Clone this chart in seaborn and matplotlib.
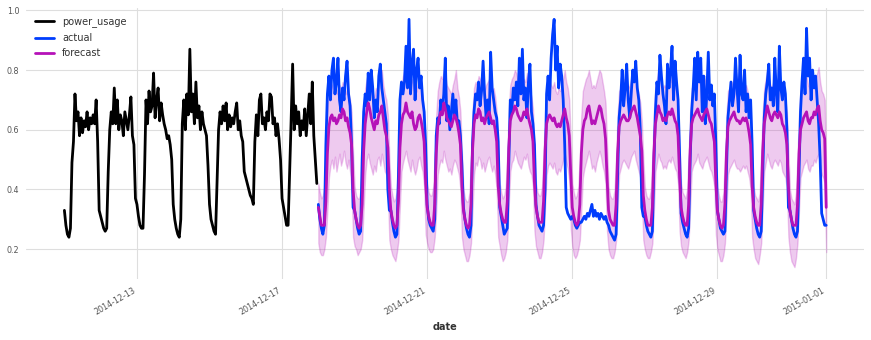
import matplotlib
matplotlib.use("Agg")
import matplotlib.pyplot as plt
import matplotlib.dates as mdates
import pandas as pd
import seaborn as sns

# ---------------- data (hourly) ----------------
power_usage_start = "2014-12-11 00:00"
forecast_start = "2014-12-18 00:00"

power_usage = [
    0.33, 0.28, 0.25, 0.24, 0.27, 0.49, 0.56, 0.72, 0.63, 0.66, 0.58, 0.64, 0.59, 0.63, 0.61, 0.66, 0.60, 0.64, 0.62, 0.65, 0.62, 0.70, 0.56, 0.33,
    0.31, 0.29, 0.27, 0.26, 0.27, 0.46, 0.60, 0.66, 0.62, 0.74, 0.62, 0.70, 0.60, 0.65, 0.63, 0.58, 0.66, 0.63, 0.60, 0.65, 0.71, 0.58, 0.55, 0.37,
    0.35, 0.31, 0.28, 0.27, 0.27, 0.45, 0.70, 0.62, 0.73, 0.66, 0.68, 0.79, 0.64, 0.70, 0.74, 0.63, 0.69, 0.65, 0.62, 0.60, 0.57, 0.58, 0.55, 0.50,
    0.35, 0.30, 0.27, 0.25, 0.24, 0.30, 0.62, 0.70, 0.60, 0.72, 0.65, 0.87, 0.66, 0.72, 0.62, 0.76, 0.64, 0.68, 0.60, 0.66, 0.62, 0.60, 0.58, 0.48,
    0.35, 0.30, 0.28, 0.26, 0.25, 0.42, 0.60, 0.66, 0.62, 0.68, 0.63, 0.69, 0.60, 0.65, 0.61, 0.64, 0.62, 0.66, 0.69, 0.60, 0.63, 0.58, 0.56, 0.46,
    0.44, 0.42, 0.40, 0.38, 0.37, 0.35, 0.56, 0.65, 0.58, 0.70, 0.72, 0.62, 0.64, 0.60, 0.66, 0.63, 0.72, 0.71, 0.62, 0.64, 0.58, 0.62, 0.57, 0.50,
    0.37, 0.34, 0.31, 0.28, 0.28, 0.45, 0.63, 0.82, 0.60, 0.68, 0.62, 0.66, 0.58, 0.63, 0.60, 0.67, 0.58, 0.65, 0.72, 0.62, 0.76, 0.58, 0.50, 0.42,
]

actual = [
    0.35, 0.30, 0.27, 0.25, 0.28, 0.55, 0.72, 0.78, 0.70, 0.80, 0.84, 0.72, 0.76, 0.84, 0.70, 0.66, 0.74, 0.70, 0.78, 0.83, 0.72, 0.68, 0.55, 0.34,
    0.33, 0.30, 0.27, 0.25, 0.26, 0.50, 0.66, 0.72, 0.68, 0.79, 0.70, 0.80, 0.74, 0.64, 0.70, 0.66, 0.78, 0.82, 0.74, 0.70, 0.66, 0.62, 0.40, 0.33,
    0.33, 0.29, 0.26, 0.24, 0.25, 0.45, 0.70, 0.76, 0.72, 0.76, 0.88, 0.74, 0.97, 0.72, 0.82, 0.87, 0.70, 0.80, 0.84, 0.74, 0.78, 0.70, 0.66, 0.55,
    0.35, 0.30, 0.28, 0.27, 0.26, 0.30, 0.58, 0.64, 0.62, 0.70, 0.66, 0.72, 0.84, 0.63, 0.68, 0.60, 0.66, 0.72, 0.64, 0.70, 0.62, 0.63, 0.58, 0.48,
    0.34, 0.30, 0.27, 0.25, 0.24, 0.28, 0.55, 0.66, 0.72, 0.70, 0.76, 0.68, 0.73, 0.83, 0.72, 0.64, 0.70, 0.62, 0.86, 0.74, 0.70, 0.66, 0.64, 0.56,
    0.34, 0.31, 0.28, 0.25, 0.26, 0.27, 0.48, 0.70, 0.66, 0.74, 0.70, 0.76, 0.68, 0.84, 0.72, 0.87, 0.70, 0.74, 0.64, 0.76, 0.82, 0.66, 0.62, 0.55,
    0.35, 0.31, 0.28, 0.27, 0.26, 0.28, 0.40, 0.72, 0.78, 0.70, 0.84, 0.92, 0.97, 0.80, 0.88, 0.74, 0.82, 0.78, 0.70, 0.55, 0.34, 0.32, 0.31, 0.30,
    0.31, 0.30, 0.28, 0.27, 0.28, 0.29, 0.29, 0.30, 0.31, 0.30, 0.32, 0.31, 0.33, 0.35, 0.31, 0.33, 0.31, 0.32, 0.30, 0.32, 0.31, 0.30, 0.31, 0.29,
    0.28, 0.26, 0.25, 0.24, 0.23, 0.25, 0.45, 0.64, 0.70, 0.80, 0.68, 0.74, 0.82, 0.70, 0.64, 0.72, 0.80, 0.76, 0.83, 0.74, 0.70, 0.60, 0.34, 0.31,
    0.31, 0.28, 0.26, 0.25, 0.24, 0.26, 0.48, 0.66, 0.76, 0.72, 0.85, 0.78, 0.72, 0.68, 0.62, 0.82, 0.74, 0.80, 0.88, 0.70, 0.83, 0.76, 0.70, 0.52,
    0.32, 0.29, 0.27, 0.25, 0.24, 0.27, 0.50, 0.66, 0.74, 0.84, 0.70, 0.86, 0.76, 0.84, 0.66, 0.78, 0.62, 0.72, 0.86, 0.70, 0.75, 0.68, 0.72, 0.55,
    0.33, 0.30, 0.27, 0.26, 0.25, 0.26, 0.46, 0.64, 0.70, 0.76, 0.68, 0.72, 0.84, 0.74, 0.66, 0.85, 0.72, 0.70, 0.80, 0.66, 0.72, 0.64, 0.70, 0.55,
    0.33, 0.30, 0.27, 0.25, 0.24, 0.26, 0.45, 0.64, 0.72, 0.76, 0.82, 0.70, 0.74, 0.68, 0.84, 0.72, 0.66, 0.88, 0.74, 0.70, 0.76, 0.72, 0.60, 0.34,
    0.33, 0.30, 0.27, 0.25, 0.24, 0.26, 0.45, 0.66, 0.76, 0.84, 0.72, 0.94, 0.78, 0.84, 0.70, 0.80, 0.74, 0.78, 0.70, 0.62, 0.50, 0.32, 0.30, 0.28,
    0.28,
]

forecast_mean = [
    0.34, 0.31, 0.28, 0.28, 0.28, 0.36, 0.52, 0.61, 0.64, 0.65, 0.63, 0.64, 0.62, 0.63, 0.65, 0.64, 0.67, 0.66, 0.63, 0.64, 0.61, 0.59, 0.55, 0.40,
    0.33, 0.30, 0.28, 0.27, 0.28, 0.35, 0.53, 0.62, 0.66, 0.69, 0.67, 0.64, 0.62, 0.60, 0.63, 0.62, 0.65, 0.66, 0.68, 0.64, 0.60, 0.58, 0.54, 0.40,
    0.33, 0.30, 0.28, 0.27, 0.28, 0.36, 0.54, 0.62, 0.65, 0.66, 0.69, 0.66, 0.65, 0.64, 0.66, 0.62, 0.60, 0.61, 0.64, 0.65, 0.63, 0.60, 0.56, 0.42,
    0.34, 0.31, 0.29, 0.28, 0.28, 0.35, 0.52, 0.61, 0.64, 0.66, 0.65, 0.69, 0.67, 0.64, 0.63, 0.62, 0.61, 0.63, 0.65, 0.64, 0.62, 0.59, 0.55, 0.41,
    0.33, 0.30, 0.28, 0.27, 0.28, 0.35, 0.53, 0.62, 0.65, 0.64, 0.67, 0.66, 0.63, 0.64, 0.62, 0.64, 0.65, 0.66, 0.64, 0.62, 0.63, 0.60, 0.56, 0.41,
    0.35, 0.32, 0.30, 0.29, 0.29, 0.36, 0.54, 0.63, 0.65, 0.66, 0.68, 0.67, 0.65, 0.64, 0.63, 0.64, 0.66, 0.65, 0.67, 0.64, 0.62, 0.60, 0.56, 0.42,
    0.34, 0.31, 0.29, 0.29, 0.29, 0.36, 0.53, 0.62, 0.64, 0.65, 0.64, 0.63, 0.64, 0.62, 0.61, 0.62, 0.61, 0.63, 0.65, 0.67, 0.64, 0.62, 0.58, 0.45,
    0.34, 0.31, 0.29, 0.28, 0.29, 0.35, 0.52, 0.60, 0.63, 0.64, 0.67, 0.68, 0.65, 0.62, 0.63, 0.62, 0.64, 0.66, 0.68, 0.67, 0.64, 0.62, 0.57, 0.44,
    0.33, 0.30, 0.29, 0.28, 0.28, 0.35, 0.52, 0.61, 0.63, 0.64, 0.65, 0.64, 0.63, 0.63, 0.64, 0.66, 0.67, 0.68, 0.66, 0.64, 0.61, 0.58, 0.53, 0.38,
    0.33, 0.30, 0.28, 0.28, 0.28, 0.34, 0.52, 0.62, 0.65, 0.68, 0.66, 0.65, 0.63, 0.64, 0.63, 0.65, 0.66, 0.65, 0.67, 0.65, 0.63, 0.62, 0.58, 0.44,
    0.34, 0.31, 0.29, 0.28, 0.28, 0.35, 0.53, 0.62, 0.64, 0.65, 0.66, 0.67, 0.65, 0.64, 0.63, 0.65, 0.66, 0.67, 0.65, 0.63, 0.62, 0.59, 0.56, 0.42,
    0.33, 0.30, 0.28, 0.27, 0.28, 0.35, 0.52, 0.61, 0.63, 0.64, 0.65, 0.66, 0.64, 0.63, 0.63, 0.62, 0.63, 0.64, 0.63, 0.64, 0.62, 0.59, 0.55, 0.41,
    0.34, 0.31, 0.29, 0.28, 0.28, 0.35, 0.53, 0.62, 0.65, 0.68, 0.66, 0.64, 0.63, 0.65, 0.66, 0.65, 0.64, 0.66, 0.65, 0.62, 0.61, 0.59, 0.55, 0.41,
    0.33, 0.30, 0.28, 0.28, 0.28, 0.35, 0.52, 0.60, 0.62, 0.64, 0.65, 0.66, 0.63, 0.62, 0.64, 0.64, 0.66, 0.65, 0.67, 0.68, 0.63, 0.60, 0.59, 0.57,
    0.34,
]

forecast_low = [
    0.22, 0.19, 0.18, 0.18, 0.20, 0.24, 0.33, 0.44, 0.48, 0.50, 0.47, 0.51, 0.46, 0.49, 0.52, 0.48, 0.50, 0.53, 0.49, 0.47, 0.50, 0.46, 0.40, 0.24,
    0.21, 0.20, 0.18, 0.19, 0.20, 0.23, 0.34, 0.45, 0.50, 0.52, 0.49, 0.47, 0.45, 0.48, 0.46, 0.50, 0.51, 0.48, 0.52, 0.49, 0.46, 0.45, 0.39, 0.23,
    0.20, 0.18, 0.17, 0.16, 0.19, 0.23, 0.35, 0.46, 0.49, 0.51, 0.53, 0.50, 0.48, 0.46, 0.50, 0.47, 0.45, 0.47, 0.50, 0.51, 0.48, 0.46, 0.41, 0.25,
    0.22, 0.20, 0.19, 0.19, 0.20, 0.24, 0.33, 0.45, 0.48, 0.50, 0.49, 0.53, 0.50, 0.48, 0.46, 0.47, 0.45, 0.48, 0.50, 0.49, 0.47, 0.45, 0.40, 0.24,
    0.20, 0.18, 0.16, 0.16, 0.18, 0.22, 0.33, 0.45, 0.49, 0.48, 0.51, 0.50, 0.47, 0.49, 0.46, 0.48, 0.50, 0.51, 0.48, 0.46, 0.48, 0.45, 0.40, 0.24,
    0.21, 0.18, 0.16, 0.17, 0.19, 0.23, 0.35, 0.46, 0.49, 0.50, 0.53, 0.51, 0.49, 0.48, 0.47, 0.49, 0.51, 0.50, 0.52, 0.48, 0.46, 0.45, 0.41, 0.26,
    0.21, 0.19, 0.17, 0.17, 0.19, 0.23, 0.34, 0.45, 0.48, 0.49, 0.48, 0.47, 0.49, 0.46, 0.45, 0.47, 0.46, 0.48, 0.50, 0.52, 0.49, 0.47, 0.43, 0.27,
    0.21, 0.18, 0.17, 0.18, 0.20, 0.23, 0.33, 0.44, 0.47, 0.49, 0.51, 0.53, 0.50, 0.47, 0.48, 0.46, 0.49, 0.51, 0.53, 0.51, 0.48, 0.46, 0.42, 0.26,
    0.20, 0.18, 0.17, 0.17, 0.19, 0.23, 0.33, 0.45, 0.47, 0.49, 0.50, 0.49, 0.48, 0.47, 0.49, 0.51, 0.52, 0.53, 0.50, 0.48, 0.46, 0.44, 0.38, 0.23,
    0.20, 0.18, 0.17, 0.17, 0.19, 0.22, 0.33, 0.46, 0.49, 0.52, 0.50, 0.49, 0.47, 0.48, 0.47, 0.49, 0.50, 0.49, 0.51, 0.49, 0.47, 0.46, 0.42, 0.26,
    0.21, 0.19, 0.18, 0.17, 0.19, 0.23, 0.34, 0.46, 0.48, 0.49, 0.50, 0.52, 0.49, 0.48, 0.47, 0.49, 0.50, 0.51, 0.49, 0.47, 0.46, 0.44, 0.41, 0.25,
    0.20, 0.18, 0.16, 0.16, 0.18, 0.22, 0.33, 0.45, 0.47, 0.48, 0.49, 0.50, 0.48, 0.47, 0.47, 0.46, 0.47, 0.48, 0.47, 0.48, 0.46, 0.44, 0.40, 0.24,
    0.20, 0.17, 0.16, 0.15, 0.18, 0.22, 0.34, 0.46, 0.49, 0.52, 0.50, 0.48, 0.47, 0.49, 0.50, 0.49, 0.48, 0.50, 0.49, 0.46, 0.45, 0.44, 0.40, 0.24,
    0.19, 0.16, 0.15, 0.14, 0.17, 0.22, 0.33, 0.44, 0.46, 0.48, 0.49, 0.50, 0.47, 0.46, 0.48, 0.48, 0.50, 0.49, 0.51, 0.52, 0.47, 0.45, 0.44, 0.42,
    0.19,
]

forecast_high = [
    0.42, 0.39, 0.37, 0.38, 0.41, 0.52, 0.66, 0.74, 0.76, 0.75, 0.73, 0.76, 0.72, 0.74, 0.75, 0.73, 0.76, 0.75, 0.72, 0.74, 0.72, 0.70, 0.66, 0.52,
    0.41, 0.38, 0.37, 0.37, 0.40, 0.51, 0.66, 0.74, 0.77, 0.79, 0.76, 0.74, 0.72, 0.71, 0.74, 0.73, 0.76, 0.78, 0.80, 0.75, 0.72, 0.70, 0.65, 0.50,
    0.41, 0.38, 0.36, 0.37, 0.40, 0.52, 0.67, 0.75, 0.78, 0.80, 0.81, 0.77, 0.76, 0.75, 0.77, 0.74, 0.72, 0.73, 0.76, 0.77, 0.74, 0.71, 0.66, 0.53,
    0.42, 0.39, 0.38, 0.38, 0.41, 0.51, 0.65, 0.73, 0.76, 0.78, 0.77, 0.80, 0.78, 0.75, 0.74, 0.73, 0.72, 0.75, 0.77, 0.80, 0.74, 0.71, 0.66, 0.52,
    0.40, 0.37, 0.36, 0.36, 0.39, 0.51, 0.66, 0.74, 0.76, 0.75, 0.78, 0.77, 0.74, 0.75, 0.73, 0.75, 0.76, 0.77, 0.75, 0.73, 0.74, 0.71, 0.66, 0.52,
    0.42, 0.39, 0.37, 0.38, 0.41, 0.52, 0.67, 0.75, 0.77, 0.78, 0.80, 0.79, 0.76, 0.75, 0.74, 0.75, 0.77, 0.76, 0.79, 0.75, 0.73, 0.71, 0.67, 0.53,
    0.42, 0.39, 0.38, 0.38, 0.41, 0.52, 0.66, 0.74, 0.76, 0.77, 0.75, 0.74, 0.76, 0.73, 0.72, 0.74, 0.73, 0.75, 0.77, 0.80, 0.76, 0.74, 0.70, 0.56,
    0.42, 0.39, 0.37, 0.38, 0.41, 0.51, 0.65, 0.73, 0.75, 0.77, 0.78, 0.80, 0.77, 0.74, 0.75, 0.74, 0.76, 0.78, 0.80, 0.79, 0.76, 0.73, 0.69, 0.55,
    0.41, 0.38, 0.37, 0.37, 0.40, 0.51, 0.65, 0.73, 0.74, 0.76, 0.77, 0.76, 0.74, 0.74, 0.75, 0.77, 0.78, 0.79, 0.77, 0.74, 0.72, 0.69, 0.63, 0.50,
    0.41, 0.38, 0.37, 0.37, 0.40, 0.51, 0.66, 0.75, 0.77, 0.80, 0.78, 0.76, 0.74, 0.75, 0.74, 0.76, 0.77, 0.76, 0.78, 0.76, 0.74, 0.73, 0.68, 0.54,
    0.42, 0.39, 0.38, 0.37, 0.40, 0.52, 0.66, 0.74, 0.75, 0.76, 0.77, 0.79, 0.76, 0.75, 0.74, 0.76, 0.77, 0.78, 0.76, 0.74, 0.73, 0.70, 0.67, 0.53,
    0.41, 0.38, 0.36, 0.36, 0.39, 0.51, 0.65, 0.73, 0.74, 0.75, 0.76, 0.77, 0.75, 0.74, 0.74, 0.73, 0.74, 0.75, 0.74, 0.75, 0.73, 0.70, 0.66, 0.52,
    0.41, 0.38, 0.37, 0.36, 0.39, 0.52, 0.66, 0.74, 0.77, 0.80, 0.77, 0.75, 0.74, 0.76, 0.77, 0.76, 0.75, 0.77, 0.76, 0.73, 0.72, 0.70, 0.66, 0.52,
    0.40, 0.37, 0.36, 0.35, 0.39, 0.51, 0.65, 0.73, 0.74, 0.76, 0.77, 0.78, 0.75, 0.74, 0.76, 0.76, 0.78, 0.77, 0.79, 0.81, 0.76, 0.73, 0.72, 0.70,
    0.45,
]

series_labels = ["power_usage", "actual", "forecast"]
series_colors = ["#000000", "#003DFD", "#b512b8"]
x_tick_days = [1, 5, 9, 13, 17, 21, 25, 29]

# ---------------- frames ----------------
pu_df = pd.DataFrame({
    "date": pd.date_range(power_usage_start, periods=len(power_usage), freq="h"),
    "value": power_usage,
})
fc_dates = pd.date_range(forecast_start, periods=len(actual), freq="h")
act_df = pd.DataFrame({"date": fc_dates, "value": actual})
fc_df = pd.DataFrame({
    "date": fc_dates,
    "value": forecast_mean,
    "low": forecast_low,
    "high": forecast_high,
})

# ---------------- style ----------------
sns.set_theme(style="whitegrid")
plt.rcParams["font.family"] = ["DejaVu Sans"]
plt.rcParams["grid.color"] = "#dedede"
plt.rcParams["grid.linewidth"] = 0.8

fig, ax = plt.subplots(figsize=(8.71, 3.40), dpi=100)
fig.subplots_adjust(left=0.0302, right=0.9923, top=0.9765, bottom=0.1794)

ax.fill_between(fc_df["date"], fc_df["low"], fc_df["high"],
                color=series_colors[2], alpha=0.22, linewidth=1.0)

sns.lineplot(data=pu_df, x="date", y="value", ax=ax, color=series_colors[0],
             linewidth=2.0, label=series_labels[0], estimator=None)
sns.lineplot(data=act_df, x="date", y="value", ax=ax, color=series_colors[1],
             linewidth=2.0, label=series_labels[1], estimator=None)
sns.lineplot(data=fc_df, x="date", y="value", ax=ax, color=series_colors[2],
             linewidth=2.0, label=series_labels[2], estimator=None)

ax.set_ylim(0.10, 1.008)
ax.xaxis.set_major_locator(mdates.DayLocator(bymonthday=x_tick_days))
ax.xaxis.set_major_formatter(mdates.DateFormatter("%Y-%m-%d"))

sns.despine(ax=ax, left=True, bottom=True)
ax.grid(True, color="#dedede", linewidth=0.8)

ax.tick_params(axis="y", length=3, width=0.8, color="#666666",
               labelsize=5.8, labelcolor="#555555", pad=2)
ax.tick_params(axis="x", length=0, labelsize=5.8, labelcolor="#555555",
               pad=5, labelrotation=30)
for lab in ax.get_xticklabels():
    lab.set_ha("right")

ax.set_xlabel("date", fontsize=7, fontweight="bold", color="#333333", labelpad=4)
ax.set_ylabel("")

leg = ax.legend(loc="upper left", frameon=False, fontsize=7,
                handlelength=2.0, labelspacing=0.55)
for t in leg.get_texts():
    t.set_color("#333333")

fig.savefig("out.png", dpi=100)
